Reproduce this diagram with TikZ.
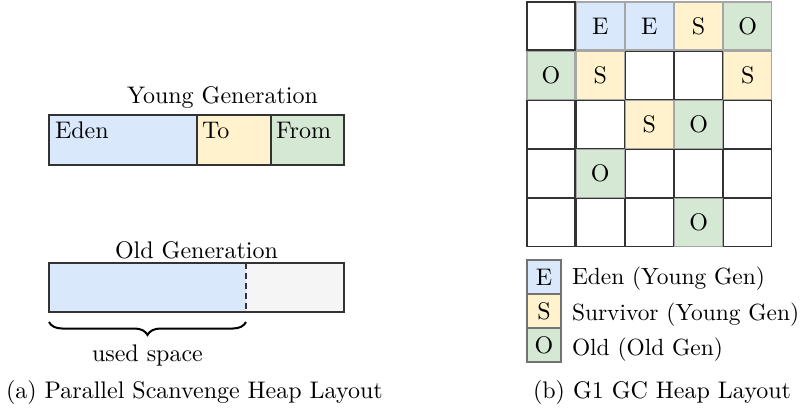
\documentclass[tikz,border=0pt]{standalone}
\usetikzlibrary{decorations.pathreplacing}

\definecolor{edenblue}{HTML}{DAE8FC}
\definecolor{survyellow}{HTML}{FFF2CC}
\definecolor{oldgreen}{HTML}{D5E8D4}
\definecolor{freegray}{HTML}{F5F5F5}
\definecolor{edgedark}{HTML}{333333}
\definecolor{edgesoft}{HTML}{A6A6A6}

% text set in 10pt design size, enlarged
\newcommand{\lbl}[1]{\scalebox{1.2}{\fontsize{10}{12}\selectfont #1}}
% slightly tighter variant for the legend lines
\newcommand{\keylbl}[1]{\scalebox{1.17}{\fontsize{10}{12}\selectfont #1}}

\begin{document}
\begin{tikzpicture}[x=0.5pt,y=-0.5pt,
  txt/.style={inner sep=0pt, outer sep=0pt, anchor=base west},
  region/.style={draw=edgedark, line width=0.6pt, inner sep=0pt, outer sep=0pt, minimum height=25pt},
  cellbase/.style={rectangle, inner sep=0pt, outer sep=0pt, minimum size=24pt, line width=0.6pt},
  cellw/.style={cellbase, draw=edgedark, fill=white, node contents={}},
  cellE/.style={cellbase, draw=edgesoft, fill=edenblue, node contents={\lbl{E}}},
  cellS/.style={cellbase, draw=edgesoft, fill=survyellow, node contents={\lbl{S}}},
  cellO/.style={cellbase, draw=edgesoft, fill=oldgreen, node contents={\lbl{O}}},
  keybox/.style={rectangle, inner sep=0pt, outer sep=0pt, minimum size=17pt, line width=0.6pt, draw=black!55},
]
\useasboundingbox (0,0) rectangle (800,412);

% ---------- (a) Parallel Scavenge ----------
\node[txt] (ytitle) at (127,104) {\lbl{Young Generation}};
\node[region, fill=edenblue, minimum width=74pt] (eden) at (123,140) {};
\node[region, fill=survyellow, minimum width=37pt] (to) at (234,140) {};
\node[region, fill=oldgreen, minimum width=36.5pt] (from) at (307.5,140) {};
\node[txt] (edenlbl) at (55,139) {\lbl{Eden}};
\node[txt] (tolbl) at (202,139) {\lbl{To}};
\node[txt] (fromlbl) at (276,139) {\lbl{From}};

\node[txt] (otitle) at (115,258) {\lbl{Old Generation}};
\node[inner sep=0pt, outer sep=0pt, minimum width=98.5pt, minimum height=24.5pt, fill=edenblue] (used) at (147.5,287.5) {};
\node[inner sep=0pt, outer sep=0pt, minimum width=49pt, minimum height=24.5pt, fill=freegray] (free) at (295,287.5) {};
\draw[edgedark, line width=0.6pt] (used.north west) rectangle (free.south east);
\draw[edgedark, line width=0.6pt, dashed, dash pattern=on 3pt off 2pt] (used.north east) -- (used.south east);

\coordinate (bl) at (49,322);
\coordinate (br) at (246,322);
\draw[line width=1pt, decorate, decoration={brace, mirror, amplitude=6.5pt}] (bl) -- (br);
\node[txt] (usedlbl) at (92,361) {\lbl{used space}};

\node[txt] (capa) at (6,398) {\lbl{(a) Parallel Scanvenge Heap Layout}};

% ---------- (b) G1 regions ----------
\foreach \r/\row in {0/{w,E,E,S,O},1/{O,S,w,w,S},2/{w,w,S,O,w},3/{w,O,w,w,w},4/{w,w,w,O,w}}{
  \foreach \t [count=\c from 0] in \row {
    \node[name=g-\r-\c, at={({551+49.2*\c},{26+49.2*\r})}, cell\t];
  }
}

\node[keybox, fill=edenblue] (keyE) at (544,277) {\lbl{E}};
\node[keybox, fill=survyellow] (keyS) at (544,311) {\lbl{S}};
\node[keybox, fill=oldgreen] (keyO) at (544,345) {\lbl{O}};
\node[txt] (keyEt) at (572,285) {\keylbl{Eden (Young Gen)}};
\node[txt] (keySt) at (572,320) {\keylbl{Survivor (Young Gen)}};
\node[txt] (keyOt) at (572,355) {\keylbl{Old (Old Gen)}};

\node[txt] (capb) at (533,398) {\lbl{(b) G1 GC Heap Layout}};
\end{tikzpicture}
\end{document}
